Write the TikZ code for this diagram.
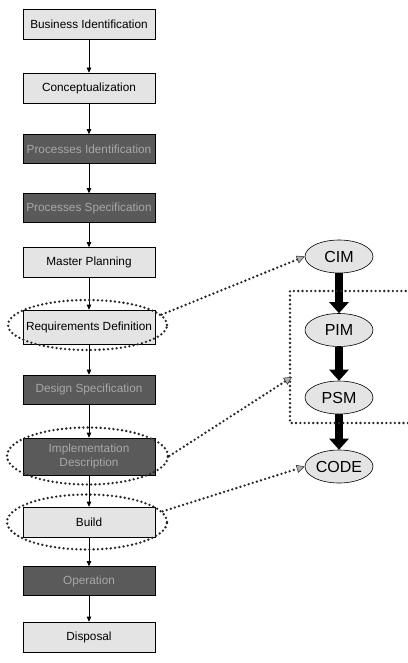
\documentclass[tikz,border=0pt]{standalone}
\usepackage{fontspec}
\setmainfont{Liberation Sans}
\usetikzlibrary{arrows.meta,shapes.geometric}
\definecolor{lightbox}{HTML}{E4E4E4}
\definecolor{darkbox}{HTML}{5A5A5A}
\definecolor{darktext}{HTML}{A8A8A8}
\definecolor{dotcol}{HTML}{262626}
\tikzset{
  x=1pt,y=-1pt,
  base/.style={draw=black,line width=0.6pt,minimum width=132pt,align=center,
    font=\fontsize{11.8}{13.5}\selectfont,inner sep=1pt},
  lightstep/.style={base,fill=lightbox,text=black,minimum height=30pt},
  darkstep/.style={base,fill=darkbox,text=darktext,minimum height=29pt},
  dotline/.style={draw=dotcol,line width=2.6pt,dash pattern=on 0pt off 4.3pt,line cap=round},
  dotring/.style={ellipse,dotline,fill=none,inner sep=0pt},
  dotarrow/.style={dotline,-{Triangle[width=8pt,length=8pt,fill=gray!60,color=dotcol,line width=0.5pt]}},
  flow/.style={draw=black,line width=0.6pt,-{Triangle[width=4.5pt,length=5pt]}},
  model/.style={ellipse,draw=black,line width=0.6pt,fill=lightbox,minimum width=68pt,
    minimum height=33pt,inner sep=0pt,font=\fontsize{16}{18}\selectfont},
  block/.style={draw=black,line width=8pt,-{Triangle[width=19pt,length=11pt]}}
}
\begin{document}
\begin{tikzpicture}
\useasboundingbox (0,0) rectangle (407,663);
% boxes
\node[lightstep] (b1) at (89,24.5) {Business Identification};
\node[lightstep] (b2) at (89,88) {Conceptualization};
\node[darkstep] (b3) at (89,149) {Processes Identification};
\node[darkstep] (b4) at (89,208) {Processes Specification};
\node[lightstep] (b5) at (89,262.5) {Master Planning};
\node[lightstep,minimum height=34pt] (b6) at (89,327) {Requirements Definition};
\node[darkstep] (b7) at (89,389.5) {Design Specification};
\node[darkstep,minimum height=37pt] (b8) at (89,456.5) {Implementation\\Description};
\node[lightstep] (b9) at (89,522) {Build};
\node[darkstep] (b10) at (89,581) {Operation};
\node[lightstep] (b11) at (89,637) {Disposal};
% flow arrows
\foreach \a/\b in {b1/b2,b2/b3,b3/b4,b4/b5,b5/b6,b6/b7,b7/b8,b8/b9,b9/b10,b10/b11}
  \draw[flow] (\a.south) -- (\b.north);
% dotted rings
\node[dotring,minimum width=159pt,minimum height=50pt] (r1) at (87.5,325) {};
\node[dotring,minimum width=161pt,minimum height=57pt] (r2) at (87.5,456) {};
\node[dotring,minimum width=160pt,minimum height=55pt] (r3) at (87,522) {};
% models
\node[model] (cim) at (339,256.5) {CIM};
\node[model] (pim) at (339,330) {PIM};
\node[model] (psm) at (339,397.5) {PSM};
\node[model] (code) at (339,466.5) {CODE};
% block arrows
\draw[block] (cim.south) -- (pim.north);
\draw[block] (pim.south) -- (psm.north);
\draw[block] (psm.south) -- (code.north);
% dotted frame
\coordinate (f1) at (410,291);
\coordinate (f2) at (290,291);
\coordinate (f3) at (290,423);
\coordinate (f4) at (410,423);
\coordinate (fin) at (292,377);
\draw[dotline] (f1) -- (f2) -- (f3) -- (f4);
% dotted arrows
\draw[dotarrow] (r1.8) -- (cim.west);
\draw[dotarrow] (r2.east) -- (fin);
\draw[dotarrow] (r3.8) -- (code.west);
\end{tikzpicture}
\end{document}
